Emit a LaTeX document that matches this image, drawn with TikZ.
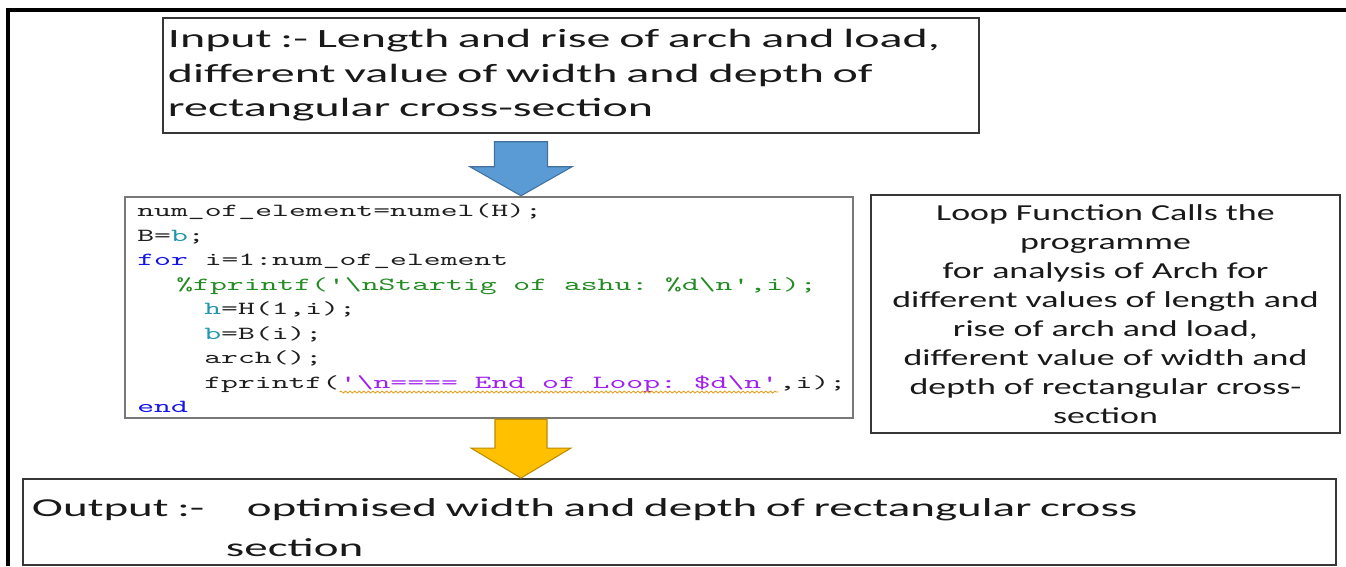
\documentclass[tikz,border=0pt]{standalone}
\usepackage{fontspec}
\setmainfont{Carlito}
\setmonofont{Latin Modern Mono}[FakeStretch=1.74]
\newfontfamily\boxfont{Carlito}[FakeStretch=1.82]
\newfontfamily\notefont{Carlito}[FakeStretch=1.57]
\usetikzlibrary{positioning, calc, decorations.pathmorphing}

\definecolor{boxline}{RGB}{55,55,55}
\definecolor{codeline}{RGB}{120,120,120}
\definecolor{txt}{RGB}{25,25,25}
\definecolor{codetxt}{RGB}{30,30,30}
\definecolor{codekw}{RGB}{20,20,230}
\definecolor{codevar}{RGB}{35,150,170}
\definecolor{codecom}{RGB}{34,139,34}
\definecolor{codestr}{RGB}{160,32,240}
\definecolor{wave}{RGB}{230,160,30}
\definecolor{arrowblue}{RGB}{91,155,213}
\definecolor{arrowblueline}{RGB}{65,113,156}
\definecolor{arrowyellow}{RGB}{255,192,0}
\definecolor{arrowyellowline}{RGB}{188,140,0}

\begin{document}
\begin{tikzpicture}[
        x=0.2mm, y=-0.2mm,
        textbox/.style={rectangle, draw=boxline, line width=1.1pt, fill=white, text=txt, inner ysep=0pt},
        codebox/.style={rectangle, draw=codeline, line width=1.4pt, fill=white},
        codetext/.style={anchor=base west, inner sep=0pt, text=codetxt, font=\ttfamily\fontsize{10.5pt}{13.9pt}\selectfont},
        wavy/.style={wave, line width=0.5pt, decorate, decoration={snake, amplitude=0.55pt, segment length=2.6pt}},
        frame/.style={line width=1.8pt},
        bluearrow/.style={fill=arrowblue, draw=arrowblueline, line width=0.6pt},
        yellowarrow/.style={fill=arrowyellow, draw=arrowyellowline, line width=0.6pt}
    ]
        \useasboundingbox (0,0) rectangle (1346,566);
        \draw[frame] (1346,10) -- (8,10) -- (8,566);

        \node[textbox, minimum width=163.2mm, minimum height=23mm, inner xsep=1mm, text width=161.2mm, align=left, font=\boxfont\fontsize{15pt}{19.6pt}\selectfont] (inbox) at (571,75.5) {Input :- Length and rise of arch and load,\\different value of width and depth of\\rectangular cross-section};

        % code listing
        \node[codebox, minimum width=145.6mm, minimum height=44.2mm] (code) at (489,307.5) {};
        \foreach \ind/\ln [count=\i] in {
            0/{num\_of\_element=numel(H);},
            0/{B={\color{codevar}b};},
            0/{{\color{codekw}for} i=1:num\_of\_element},
            39/{{\color{codecom}\%fprintf('\textbackslash nStartig of ashu: \%d\textbackslash n',i);}},
            67/{{\color{codevar}h}=H(1,i);},
            67/{{\color{codevar}b}=B(i);},
            67/{arch();},
            67/{fprintf(},
            0/{{\color{codekw}end}}}
            \node[codetext] (code\i) at (137+\ind, 192+24.5*\i) {\ln};
        \node[codetext, text=codestr] (codestr) at (code8.base east) {'\textbackslash n==== End of Loop: \$d\textbackslash n'};
        \node[codetext] (codetail) at (codestr.base east) {,i);};
        \draw[wavy] ([yshift=-2.3pt]codestr.base west) -- ([yshift=-2.3pt]codestr.base east);

        \node[textbox, minimum width=93.8mm, minimum height=47.6mm, align=center, font=\notefont\fontsize{13pt}{16.5pt}\selectfont] (note) at (1105.5,314) {Loop Function Calls the\\programme\\for analysis of Arch for\\different values of length and\\rise of arch and load,\\different value of width and\\depth of rectangular cross-\\section};

        \node[textbox, minimum width=262.6mm, minimum height=17.2mm, inner xsep=1.8mm, text width=259mm, align=left, font=\boxfont\fontsize{14.7pt}{22.8pt}\selectfont] (outbox) at (679.5,522) {\rule{0pt}{17pt}Output :-\hspace{8.5mm}optimised width and depth of rectangular cross\\\hspace*{38.8mm}section};

        % block arrows between the boxes
        \coordinate (bluetop) at (521,143);
        \path (bluetop |- code.north) coordinate (bluetip);
        \draw[bluearrow] (bluetip) -- ++(-51,-29) -- ++(24.5,0) -- ++(0,-25) -- ++(53,0) -- ++(0,25) -- ++(24.5,0) -- cycle;

        \path (bluetop |- outbox.north) coordinate (yellowtip);
        \draw[yellowarrow] (yellowtip) -- ++(-50,-30) -- ++(24,0) -- ($(yellowtip |- code.south)+(-26,0)$) -- ++(52,0) -- ($(yellowtip)+(26,-30)$) -- ++(24,0) -- cycle;
\end{tikzpicture}
\end{document}
